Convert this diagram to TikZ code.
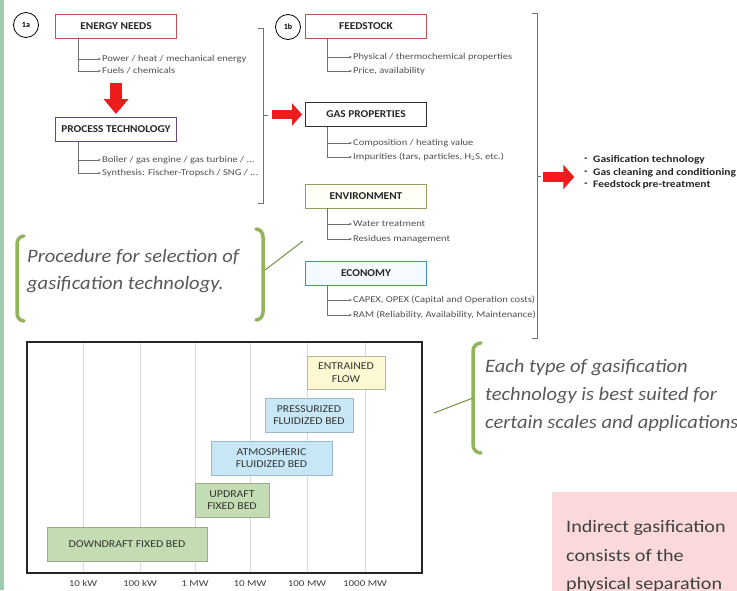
\documentclass[tikz,border=0pt]{standalone}
\usepackage{fontspec}
\setmainfont{Carlito}
\newfontfamily\leaffont[FakeStretch=1.17]{Carlito}
\newfontfamily\boxfont[FakeStretch=1.08]{Carlito}
\newfontfamily\listfont[FakeStretch=1.15]{Carlito}
\newfontfamily\itfont[FakeStretch=1.08]{Carlito}
\newfontfamily\chartfont[FakeStretch=1.12]{Carlito}
\newfontfamily\axisfont[FakeStretch=1.22]{Carlito}
\newfontfamily\pinkfont[FakeStretch=1.15]{Carlito}
\usetikzlibrary{arrows.meta,calc}
\definecolor{enred}{HTML}{C0504D}
\definecolor{procpurple}{HTML}{5F497A}
\definecolor{gasblack}{HTML}{303030}
\definecolor{envolive}{HTML}{9C9A5E}
\definecolor{ecoblue}{HTML}{3C8DD0}
\definecolor{arrowred}{HTML}{EE1C1C}
\definecolor{gbr}{HTML}{92B45A}
\definecolor{gridgray}{HTML}{D9D9D9}
\definecolor{yel}{HTML}{FCF9D2}
\definecolor{yelb}{HTML}{B8B89A}
\definecolor{blu}{HTML}{C8E7F6}
\definecolor{blub}{HTML}{9FB8C8}
\definecolor{grn}{HTML}{C4DCB4}
\definecolor{grnb}{HTML}{9AAE8E}
\definecolor{pinkbg}{HTML}{FBD9DA}
\definecolor{leafgray}{HTML}{505050}
\definecolor{treegray}{HTML}{707070}
\definecolor{itgray}{HTML}{595959}
\definecolor{strip}{HTML}{9FCAB0}
\begin{document}
\begin{tikzpicture}[x=1pt,y=-1pt,
  topbox/.style={draw, line width=0.9pt, fill=white, minimum width=121, minimum height=24, inner sep=0pt, font=\boxfont\fontsize{10.5}{12}\selectfont\bfseries, text=black!85},
  leaf/.style={anchor=west, inner sep=1pt, font=\leaffont\fontsize{9}{10}\selectfont, text=leafgray},
  treeline/.style={draw=treegray, line width=0.5pt, -{Stealth[length=3pt,width=2.5pt]}},
  numcirc/.style={circle, draw, line width=0.8pt, minimum size=25, inner sep=0pt, font=\fontsize{8}{9}\selectfont\bfseries},
  bracketline/.style={draw=treegray, line width=0.6pt},
  greenbr/.style={draw=gbr, line width=3.5pt, line cap=round},
  greenln/.style={draw=gbr!80!black, line width=1pt},
  chartbox/.style={draw, line width=0.5pt, inner sep=0pt, align=center, font=\chartfont\fontsize{10.5}{12.5}\selectfont, text=black!80},
  axislbl/.style={inner sep=0pt, font=\axisfont\fontsize{9}{10}\selectfont, text=black!75},
  listtext/.style={anchor=west, inner sep=0pt, font=\listfont\fontsize{10}{11}\selectfont\bfseries, text=black!85},
  ittext/.style={anchor=west, inner sep=0pt, align=left, text=itgray}
]
\useasboundingbox (0,0) rectangle (737,590);
\fill[white] (0,0) rectangle (737,590);
\fill[strip] (0,0) rectangle (4,590);

% ---------- 1a ----------
\node[numcirc] (c1a) at (26,25) {1a};
\node[topbox, draw=enred] (energy) at (116,26) {ENERGY NEEDS};
\coordinate (ta) at ($(energy.south west)+(23,0)$);
\node[leaf] (e1) at (101,59) {Power / heat / mechanical energy};
\node[leaf] (e2) at (101,71) {Fuels / chemicals};
\draw[treeline] (ta) |- (e1.west);
\draw[treeline] (ta) |- (e2.west);

\node[topbox, draw=procpurple] (proc) at (116,129.5) {PROCESS TECHNOLOGY};
\coordinate (da) at (116,83);
\draw[draw=arrowred, line width=12pt, -{Triangle[length=15pt,width=24pt]}] (da) -- ($(proc.north)+(0,-3)$);
\coordinate (tb) at ($(proc.south west)+(23,0)$);
\node[leaf] (p1) at (101,160) {Boiler / gas engine / gas turbine / ...};
\node[leaf] (p2) at (101,173) {Synthesis: Fischer-Tropsch / SNG / ...};
\draw[treeline] (tb) |- (p1.west);
\draw[treeline] (tb) |- (p2.west);

% bracket 1a
\draw[bracketline] (258,28) -- (263,28) -- (263,203) -- (258,203);
\coordinate (b1m) at (263,115);
\draw[bracketline] (b1m) -- ++(5,0);

% ---------- 1b ----------
\node[numcirc] (c1b) at (288,27) {1b};
\node[topbox, draw=enred] (feed) at (366,26.5) {FEEDSTOCK};
\coordinate (tc) at ($(feed.south west)+(22,0)$);
\node[leaf] (f1) at (352,57) {Physical / thermochemical properties};
\node[leaf] (f2) at (352,71) {Price, availability};
\draw[treeline] (tc) |- (f1.west);
\draw[treeline] (tc) |- (f2.west);

\node[topbox, draw=gasblack] (gas) at (366,114.5) {GAS PROPERTIES};
\coordinate (ga) at (272,114.5);
\draw[draw=arrowred, line width=9pt, -{Triangle[length=10pt,width=22pt]}] (ga) -- ($(gas.west)+(-3,0)$);
\coordinate (td) at ($(gas.south west)+(22,0)$);
\node[leaf] (g1) at (352,143) {Composition / heating value};
\node[leaf] (g2) at (352,157) {Impurities (tars, particles, H$_2$S, etc.)};
\draw[treeline] (td) |- (g1.west);
\draw[treeline] (td) |- (g2.west);

\node[topbox, draw=envolive, fill=yel!25] (env) at (366,196) {ENVIRONMENT};
\coordinate (te) at ($(env.south west)+(22,0)$);
\node[leaf] (v1) at (352,224) {Water treatment};
\node[leaf] (v2) at (352,239) {Residues management};
\draw[treeline] (te) |- (v1.west);
\draw[treeline] (te) |- (v2.west);

\node[topbox, draw=ecoblue, fill=blu!20] (eco) at (366,273) {ECONOMY};
\coordinate (tf) at ($(eco.south west)+(22,0)$);
\node[leaf] (o1) at (352,300) {CAPEX, OPEX (Capital and Operation costs)};
\node[leaf] (o2) at (352,315) {RAM (Reliability, Availability, Maintenance)};
\draw[treeline] (tf) |- (o1.west);
\draw[treeline] (tf) |- (o2.west);

% bracket 1b
\draw[bracketline] (532,13) -- (537,13) -- (537,338) -- (532,338);
\coordinate (b2m) at (537,176);
\draw[bracketline] (b2m) -- ++(4,0);
\coordinate (la) at (543,177);
\node[inner sep=0pt] (d2) at (586,172.5) {\fontsize{10}{11}\selectfont\bfseries -};
\draw[draw=arrowred, line width=10pt, -{Triangle[length=11pt,width=24pt]}] (la) -- ($(d2.west)+(-10,4.5)$);
\node[inner sep=0pt] (d1) at (586,160) {\fontsize{10}{11}\selectfont\bfseries -};
\node[inner sep=0pt] (d3) at (586,185) {\fontsize{10}{11}\selectfont\bfseries -};
\node[listtext] (l1) at (593,160) {Gasification technology};
\node[listtext] (l2) at (593,172.5) {Gas cleaning and conditioning};
\node[listtext] (l3) at (593,185) {Feedstock\,pre-treatment};

% ---------- green bracket 1 ----------
\draw[greenbr] (24,236) to[out=180,in=90] (17,244) -- (17,313) to[out=-90,in=180] (24,321);
\draw[greenbr] (256,229) to[out=0,in=90] (263,237) -- (263,312) to[out=-90,in=0] (256,320);
\node[ittext, font=\itfont\fontsize{19}{27}\selectfont\itshape] (proctext) at (27,271.5) {Procedure for selection of\\gasification technology.};
\coordinate (g1a) at (265,270);
\coordinate (g1b) at (303,241);
\draw[greenln] (g1a) -- (g1b);

% ---------- chart ----------
\foreach \x in {83,140,195,250,307,365} {
  \draw[gridgray, line width=0.8pt] (\x,343) -- (\x,572);
}
\draw[line width=1.6pt, black!85] (27,342) rectangle (422,573);
\node[chartbox, fill=yel, draw=yelb, minimum width=78, minimum height=33] (ef) at (346,372.5) {ENTRAINED\\FLOW};
\node[chartbox, fill=blu, draw=blub, minimum width=88, minimum height=34] (pfb) at (309,415) {PRESSURIZED\\FLUIDIZED BED};
\node[chartbox, fill=blu, draw=blub, minimum width=121, minimum height=34] (afb) at (271.5,458) {ATMOSPHERIC\\FLUIDIZED BED};
\node[chartbox, fill=grn, draw=grnb, minimum width=74, minimum height=34] (ufb) at (232,500) {UPDRAFT\\FIXED BED};
\node[chartbox, fill=grn, draw=grnb, minimum width=160, minimum height=34] (dfb) at (127,544) {DOWNDRAFT FIXED BED};
\node[axislbl] (x1) at (83,583.5) {10 kW};
\node[axislbl] (x2) at (140,583.5) {100 kW};
\node[axislbl] (x3) at (195,583.5) {1 MW};
\node[axislbl] (x4) at (250,583.5) {10 MW};
\node[axislbl] (x5) at (307,583.5) {100 MW};
\node[axislbl] (x6) at (365,583.5) {1000 MW};

% ---------- green bracket 2 ----------
\draw[greenbr] (481,343) to[out=180,in=90] (473,351) -- (473,445) to[out=-90,in=180] (481,453);
\node[ittext, font=\itfont\fontsize{19}{28}\selectfont\itshape] (eachtext) at (485,395) {Each type of gasification\\technology is best suited for\\certain scales and applications};
\coordinate (g2a) at (473,398);
\coordinate (g2b) at (434,413);
\draw[greenln] (g2a) -- (g2b);

% ---------- pink box ----------
\fill[pinkbg] (552,492) rectangle (740,595);
\node[anchor=west, inner sep=0pt, align=left, text=black!75, font=\pinkfont\fontsize{17.5}{28.5}\selectfont] (indirect) at (566,556.5) {Indirect gasification\\consists of the\\physical separation};
\end{tikzpicture}
\end{document}
